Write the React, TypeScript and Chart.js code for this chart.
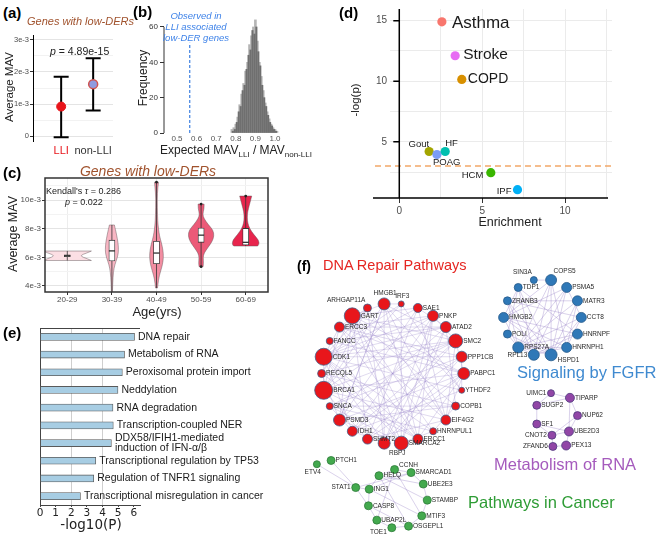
import React, { useEffect, useRef } from 'react';
import { Chart, registerables } from 'chart.js';
Chart.register(...registerables);

const FONT = '"Liberation Sans", Arial, Helvetica, sans-serif';
Chart.defaults.font.family = FONT;

// ================= DATA =================
// (a)
const aGroups = ['LLI', 'non-LLI'];
const aMean = [0.92e-3, 1.62e-3];
const aLow = [-0.04e-3, 0.8e-3];
const aHigh = [1.85e-3, 2.43e-3];
const aYTicks = [0, 0.5e-3, 1e-3, 1.5e-3, 2e-3, 2.5e-3, 3e-3];
const aYLabels = ['0', '', '1e-3', '', '2e-3', '', '3e-3'];

// (b)
const bCentersLight = [0.78, 0.79, 0.8, 0.81, 0.82, 0.83, 0.84, 0.85, 0.86, 0.87, 0.88, 0.89, 0.9, 0.91, 0.92, 0.93, 0.94, 0.95, 0.96, 0.97, 0.98, 0.99, 1.0, 1.01];
const bCountsLight = [2, 3, 5, 9, 16, 22, 28, 35, 40, 50, 55, 60, 64, 52, 40, 32, 24, 17, 12, 8, 5, 3, 2, 1];
const bCentersDark = [0.785, 0.795, 0.805, 0.815, 0.825, 0.835, 0.845, 0.855, 0.865, 0.875, 0.885, 0.895, 0.905, 0.915, 0.925, 0.935, 0.945, 0.955, 0.965, 0.975, 0.985, 0.995, 1.005];
const bCountsDark = [1, 2, 6, 12, 15, 24, 27, 36, 44, 47, 58, 56, 60, 46, 38, 27, 20, 15, 10, 6, 4, 2, 1];
const bXTicks = [0.5, 0.6, 0.7, 0.8, 0.9, 1.0];
const bYTicks = [0, 20, 40, 60];
const bObserved = 0.565;

// (c)
const cGroups = ['20-29', '30-39', '40-49', '50-59', '60-69'];
const cMedian = [6.11e-3, 6.45e-3, 6.3e-3, 7.55e-3, 7.05e-3];
const cQ1 = [6.05e-3, 5.75e-3, 5.55e-3, 7.05e-3, 6.86e-3];
const cQ3 = [6.17e-3, 7.2e-3, 7.12e-3, 8.05e-3, 8.02e-3];
const cMin = [5.78e-3, 3.5e-3, 3.86e-3, 5.35e-3, 6.79e-3];
const cMax = [6.44e-3, 8.26e-3, 11.25e-3, 9.72e-3, 10.28e-3];
const cOutliers = [[], [], [11.25e-3], [9.72e-3, 5.35e-3], [10.28e-3]];
// violin density profiles (levels in 1e-3 units, relative half-width as share of a category)
const cViolinLevels = [
  [5.78, 5.9, 6.11, 6.32, 6.44],
  [3.5, 4.2, 5.0, 5.5, 5.9, 6.3, 6.8, 7.3, 7.8, 8.1, 8.26],
  [3.86, 4.5, 5.0, 5.5, 6.0, 6.5, 7.0, 7.5, 8.0, 8.5, 9.5, 10.5, 11.25],
  [5.35, 5.6, 6.0, 6.3, 6.7, 7.1, 7.5, 7.9, 8.3, 8.7, 9.0, 9.4, 9.72],
  [6.79, 6.9, 7.2, 7.6, 8.0, 8.4, 8.8, 9.2, 9.6, 10.0, 10.28],
];
const cViolinWidths = [
  [0.54, 0.45, 0.27, 0.45, 0.54],
  [0.011, 0.018, 0.034, 0.067, 0.112, 0.146, 0.146, 0.123, 0.09, 0.067, 0.056],
  [0.022, 0.045, 0.09, 0.135, 0.157, 0.146, 0.112, 0.067, 0.045, 0.027, 0.018, 0.018, 0.045],
  [0.045, 0.056, 0.045, 0.067, 0.157, 0.247, 0.291, 0.269, 0.157, 0.067, 0.034, 0.067, 0.067],
  [0.269, 0.303, 0.291, 0.179, 0.09, 0.045, 0.034, 0.045, 0.078, 0.112, 0.135],
];
const cYTicks = [4e-3, 5e-3, 6e-3, 7e-3, 8e-3, 9e-3, 10e-3, 11e-3];
const cYLabels = ['4e-3', '', '6e-3', '', '8e-3', '', '10e-3', ''];

// (d)
const dDiseases = ['Asthma', 'Stroke', 'COPD', 'Gout', 'POAG', 'HF', 'HCM', 'IPF'];
const dEnrich = [2.57, 3.37, 3.77, 1.8, 2.27, 2.77, 5.52, 7.13];
const dLogP = [14.9, 12.1, 10.15, 4.2, 3.95, 4.2, 2.45, 1.05];
const dThreshold = 3.0;
const dXTicks = [0, 2.5, 5, 7.5, 10, 12.5];
const dXLabels = ['0', '', '5', '', '10', ''];
const dYTicks = [2.5, 5, 7.5, 10, 12.5, 15];
const dYLabels = ['', '5', '', '10', '', '15'];

// (e)
const ePathways: any[] = [
  'DNA repair',
  'Metabolism of RNA',
  'Peroxisomal protein import',
  'Neddylation',
  'RNA degradation',
  'Transcription-coupled NER',
  ['DDX58/IFIH1-mediated', 'induction of IFN-\u03b1/\u03b2'],
  'Transcriptional regulation by TP53',
  'Regulation of TNFR1 signaling',
  'Transcriptional misregulation in cancer',
];
const eLogP = [6.05, 5.41, 5.27, 4.99, 4.67, 4.69, 4.57, 3.57, 3.44, 2.59];
const eXTicks = [0, 1, 2, 3, 4, 5, 6];

// (f) networks
const redNodes = ['IRF3', 'SAE1', 'PNKP', 'ATAD2', 'SMC2', 'PPP1CB', 'PABPC1', 'YTHDF2', 'COPB1', 'EIF4G2', 'HNRNPUL1', 'ERCC1', 'SMARCA2', 'RBPJ', 'SHMT2', 'IDH1', 'PSMD3', 'SNCA', 'BRCA1', 'RECQL5', 'CDK1', 'FANCC', 'ERCC3', 'GART', 'ARHGAP11A', 'HMGB1'];
const redDegree = [8, 14, 18, 18, 24, 18, 20, 8, 12, 16, 10, 16, 24, 20, 16, 16, 20, 10, 32, 12, 30, 10, 16, 28, 12, 20];
const redEdges = '0-12 0-18 0-20 1-16 1-20 1-23 2-18 2-13 2-11 3-20 3-16 3-22 3-12 4-18 4-20 4-23 4-14 4-9 5-17 5-20 5-15 6-18 6-22 6-23 6-13 6-9 7-20 7-25 8-16 8-23 8-19 9-18 9-22 9-25 10-20 10-23 11-18 11-22 11-20 11-25 12-20 12-23 12-16 12-2 13-20 13-25 13-3 14-23 14-1 14-6 15-20 15-2 15-4 16-23 16-6 16-25 17-4 17-8 18-22 18-14 18-24 19-4 19-11 20-24 20-2 21-6 21-12 22-2 22-5 23-19 23-11 24-9 24-13 25-16 25-4 25-18 1-3 2-4 4-6 5-7 8-10 10-12 13-15 15-17 18-20 20-22 22-24 23-25 0-25 16-19 6-11 9-14 3-8 1-9 12-17 19-24 5-13 10-17 21-3 7-15 0-7';
const blueNodes = ['SIN3A', 'COPS5', 'PSMA5', 'MATR3', 'CCT8', 'HNRNPF', 'HNRNPH1', 'HSPD1', 'RPL13', 'RPS27A', 'POLI', 'HMGB2', 'ZRANB3', 'TDP1'];
const blueDegree = [10, 18, 16, 16, 16, 16, 16, 20, 18, 18, 12, 16, 12, 12];
const blueEdges = '0-1 1-7 1-8 1-9 1-6 1-11 2-7 2-9 2-8 2-11 3-9 3-7 3-6 4-9 4-7 4-12 5-9 5-8 5-11 6-9 6-8 7-9 7-11 7-12 8-9 8-13 9-11 9-12 9-10 10-7 11-13 11-6 12-3 13-7 13-5 2-4 4-6 10-13 12-8';
const purpleNodes = ['UIMC1', 'TIPARP', 'SUGP2', 'NUP62', 'SF1', 'UBE2D3', 'CNOT2', 'PEX13', 'ZFAND6'];
const purpleDegree = [10, 14, 12, 12, 12, 14, 12, 14, 12];
const purpleLayoutX = [265, 285, 250, 293, 250, 284, 266, 281, 267];
const purpleLayoutY = [148, 153, 161, 172, 181, 189, 193, 204, 205];
const purpleEdges = ['UIMC1-TIPARP', 'UIMC1-SUGP2', 'TIPARP-SUGP2', 'TIPARP-NUP62', 'SUGP2-SF1', 'SF1-CNOT2', 'SF1-UBE2D3', 'NUP62-CNOT2', 'NUP62-UBE2D3', 'CNOT2-ZFAND6', 'CNOT2-UBE2D3', 'UBE2D3-PEX13', 'ZFAND6-PEX13', 'TIPARP-UBE2D3'];
const greenRing = ['CCNH', 'SMARCAD1', 'UBE2E3', 'STAMBP', 'MTIF3', 'OSGEPL1', 'TOE1', 'UBAP2L', 'CASP8', 'ING1', 'HELQ'];
const greenExtra = ['STAT1', 'ETV4', 'PTCH1'];
const greenExtraX = [59, 18, 33];
const greenExtraY = [249, 224, 220];
const greenDegree = [12, 12, 12, 12, 12, 12, 12, 12, 12, 12, 12, 12, 10, 12];
const greenEdges = ['ETV4-STAT1', 'PTCH1-STAT1', 'STAT1-CASP8', 'STAT1-SMARCAD1', 'STAT1-ING1', 'CCNH-HELQ', 'CCNH-SMARCAD1', 'CCNH-UBAP2L', 'HELQ-ING1', 'HELQ-STAMBP', 'HELQ-UBE2E3', 'ING1-CASP8', 'ING1-MTIF3', 'CASP8-UBAP2L', 'CASP8-OSGEPL1', 'UBAP2L-TOE1', 'TOE1-OSGEPL1', 'OSGEPL1-MTIF3', 'MTIF3-STAMBP', 'STAMBP-UBE2E3', 'UBE2E3-SMARCAD1', 'SMARCAD1-ING1', 'CCNH-MTIF3', 'HELQ-OSGEPL1'];

// ================= STYLE / LAYOUT =================
const aPointFill = ['#e8141a', '#8f9be0'];
const aPointEdge = ['#e8141a', '#d0524f'];
const cColors = ['#fcdfe4', '#f8b6c3', '#f28da1', '#ec5a78', '#e8254d'];
const dColors = ['#F8766D', '#E76BF3', '#D89000', '#A3A500', '#7B9CF5', '#00BFAF', '#39B600', '#00B0F6'];
const dLabelStyle = [
  { dx: 10, dy: 1, size: 17, align: 'left' },
  { dx: 8, dy: -1, size: 15.5, align: 'left' },
  { dx: 6, dy: 0, size: 14, align: 'left' },
  { dx: 0, dy: -7, size: 9.5, align: 'right' },
  { dx: -4, dy: 8, size: 9.5, align: 'left' },
  { dx: 0, dy: -8, size: 9.5, align: 'left' },
  { dx: -7.5, dy: 2.5, size: 9.5, align: 'right' },
  { dx: -6, dy: 2, size: 9.5, align: 'right' },
];
const labelPos: Record<string, string> = {
  ARHGAP11A: 'tl', HMGB1: 't', IRF3: 't', RBPJ: 'br',
  SIN3A: 'tl', COPS5: 'tr', RPL13: 'l', HSPD1: 'rb',
  UIMC1: 'l', CNOT2: 'l', ZFAND6: 'l',
  ETV4: 'bl', STAT1: 'l', CCNH: 'rt', TOE1: 'lb',
};
const nodeRadius = (deg: number) => 1 + deg * 0.25;

function circleLayout(n: number, cx: number, cy: number, r: number, startDeg: number) {
  const out: { x: number; y: number }[] = [];
  for (let i = 0; i < n; i++) {
    const a = ((startDeg + (i * 360) / n) * Math.PI) / 180;
    out.push({ x: cx + r * Math.sin(a), y: cy - r * Math.cos(a) });
  }
  return out;
}

const fixW = (w: number) => (s: any) => { s.width = w; };
const fixH = (h: number) => (s: any) => { s.height = h; };
const base = (pad: any) => ({
  responsive: false,
  animation: false,
  layout: { padding: pad },
  plugins: { legend: { display: false }, tooltip: { enabled: false }, title: { display: false } },
});

// ================= (a) =================
function configA() {
  const errPlugin = {
    id: 'errA',
    beforeDatasetsDraw(chart: any) {
      const { ctx, scales } = chart;
      ctx.save();
      ctx.strokeStyle = '#000';
      ctx.lineWidth = 2;
      aGroups.forEach((_, i) => {
        const px = scales.x.getPixelForValue(i + 1);
        const p1 = scales.y.getPixelForValue(aLow[i]);
        const p2 = scales.y.getPixelForValue(aHigh[i]);
        ctx.beginPath();
        ctx.moveTo(px, p1); ctx.lineTo(px, p2);
        ctx.moveTo(px - 7.5, p1); ctx.lineTo(px + 7.5, p1);
        ctx.moveTo(px - 7.5, p2); ctx.lineTo(px + 7.5, p2);
        ctx.stroke();
      });
      ctx.restore();
    },
  };
  return {
    type: 'scatter',
    data: {
      datasets: [{
        data: aMean.map((m, i) => ({ x: i + 1, y: m })),
        pointRadius: 4.5,
        pointBackgroundColor: aPointFill,
        pointBorderColor: aPointEdge,
        pointBorderWidth: [1, 1.5],
      }],
    },
    options: {
      ...base({ top: 7, right: 12, left: 0, bottom: 0 }),
      scales: {
        x: {
          type: 'linear', min: 0.12, max: 2.62,
          afterBuildTicks: (s: any) => { s.ticks = aGroups.map((_, i) => ({ value: i + 1 })); },
          afterFit: fixH(21),
          grid: { display: false, drawTicks: false },
          border: { display: false },
          ticks: {
            autoSkip: false, maxRotation: 0, padding: 3,
            callback: (v: any) => aGroups[Math.round(v) - 1],
            color: (c: any) => (c.index === 0 ? '#e8141a' : '#333'),
            font: { size: 11 },
          },
        },
        y: {
          type: 'linear', min: -0.156e-3, max: 3.156e-3,
          afterBuildTicks: (s: any) => { s.ticks = aYTicks.map((v) => ({ value: v })); },
          afterFit: fixW(33),
          grid: {
            color: (c: any) => (aYLabels[c.index] ? '#e4e4e4' : '#f2f2f2'),
            tickColor: (c: any) => (aYLabels[c.index] ? '#333' : 'rgba(0,0,0,0)'),
            tickLength: 3,
          },
          border: { display: true, color: '#000', width: 1 },
          ticks: { autoSkip: false, padding: 1, callback: (_v: any, i: number) => aYLabels[i], color: '#4d4d4d', font: { size: 7.5 } },
        },
      },
    },
    plugins: [errPlugin],
  };
}

// ================= (b) =================
function configB() {
  const plug = {
    id: 'bAxis',
    afterDatasetsDraw(chart: any) {
      const { ctx, scales, chartArea } = chart;
      ctx.save();
      ctx.strokeStyle = '#333';
      ctx.lineWidth = 1;
      ctx.beginPath();
      ctx.moveTo(chartArea.left, scales.y.getPixelForValue(bYTicks[0]));
      ctx.lineTo(chartArea.left, scales.y.getPixelForValue(bYTicks[bYTicks.length - 1]));
      ctx.stroke();
      const px = scales.x.getPixelForValue(bObserved);
      ctx.strokeStyle = '#3d7fe0';
      ctx.lineWidth = 1.2;
      ctx.setLineDash([3, 2]);
      ctx.beginPath();
      ctx.moveTo(px, scales.y.getPixelForValue(0));
      ctx.lineTo(px, scales.y.getPixelForValue(51));
      ctx.stroke();
      ctx.restore();
    },
  };
  return {
    type: 'bar',
    data: {
      datasets: [
        { data: bCentersLight.map((c, i) => ({ x: c, y: bCountsLight[i] })), backgroundColor: '#b5b5b5', barThickness: 2, grouped: false, order: 2 },
        { data: bCentersDark.map((c, i) => ({ x: c, y: bCountsDark[i] })), backgroundColor: '#6f6f6f', barThickness: 1.4, grouped: false, order: 1 },
      ],
    },
    options: {
      ...base({ top: 11, right: 10, left: 0, bottom: 0 }),
      scales: {
        x: {
          type: 'linear', min: 0.4337, max: 1.051, offset: false,
          afterBuildTicks: (s: any) => { s.ticks = bXTicks.map((v) => ({ value: v })); },
          afterFit: fixH(12),
          grid: { display: false, drawTicks: false },
          border: { display: false },
          ticks: { autoSkip: false, maxRotation: 0, padding: 1, callback: (v: any) => Number(v).toFixed(1), color: '#555', font: { size: 8 } },
        },
        y: {
          type: 'linear', min: 0, max: 66.2,
          afterBuildTicks: (s: any) => { s.ticks = bYTicks.map((v) => ({ value: v })); },
          afterFit: fixW(34),
          grid: { drawOnChartArea: false, drawTicks: true, tickLength: 4, color: '#333' },
          border: { display: false },
          ticks: { autoSkip: false, padding: 2, color: '#333', font: { size: 8 } },
        },
      },
    },
    plugins: [plug],
  };
}

// ================= (c) =================
function smoothTo(ctx: any, pts: number[][], move: boolean) {
  if (move) ctx.moveTo(pts[0][0], pts[0][1]); else ctx.lineTo(pts[0][0], pts[0][1]);
  for (let i = 1; i < pts.length - 1; i++) {
    const mx = (pts[i][0] + pts[i + 1][0]) / 2;
    const my = (pts[i][1] + pts[i + 1][1]) / 2;
    ctx.quadraticCurveTo(pts[i][0], pts[i][1], mx, my);
  }
  ctx.lineTo(pts[pts.length - 1][0], pts[pts.length - 1][1]);
}

function configC() {
  const plug = {
    id: 'violins',
    beforeDatasetsDraw(chart: any) {
      const { ctx, chartArea, scales } = chart;
      const { x, y } = scales;
      const catW = x.getPixelForValue(1) - x.getPixelForValue(0);
      ctx.save();
      ctx.beginPath();
      ctx.rect(chartArea.left, chartArea.top, chartArea.width, chartArea.height);
      ctx.clip();
      cGroups.forEach((_, i) => {
        const cx = x.getPixelForValue(i);
        const lv = cViolinLevels[i];
        const wd = cViolinWidths[i];
        const right = lv.map((v, k) => [cx + wd[k] * catW, y.getPixelForValue(v * 1e-3)]);
        const left = lv.map((v, k) => [cx - wd[k] * catW, y.getPixelForValue(v * 1e-3)]).reverse();
        ctx.beginPath();
        smoothTo(ctx, right, true);
        smoothTo(ctx, left, false);
        ctx.closePath();
        ctx.fillStyle = cColors[i];
        ctx.fill();
        ctx.strokeStyle = 'rgba(95,80,85,0.75)';
        ctx.lineWidth = 0.6;
        ctx.stroke();
        ctx.strokeStyle = '#333';
        ctx.lineWidth = 0.8;
        ctx.beginPath();
        ctx.moveTo(cx, y.getPixelForValue(cMin[i]));
        ctx.lineTo(cx, y.getPixelForValue(cMax[i]));
        ctx.stroke();
      });
      ctx.restore();
    },
    afterDatasetsDraw(chart: any) {
      const { ctx, scales } = chart;
      const { x, y } = scales;
      ctx.save();
      cGroups.forEach((_, i) => {
        const cx = x.getPixelForValue(i);
        const py = y.getPixelForValue(cMedian[i]);
        ctx.strokeStyle = '#222';
        ctx.lineWidth = 1.2;
        ctx.beginPath();
        ctx.moveTo(cx - 3, py); ctx.lineTo(cx + 3, py);
        ctx.stroke();
        ctx.fillStyle = '#222';
        cOutliers[i].forEach((o: number) => {
          ctx.beginPath();
          ctx.arc(cx, y.getPixelForValue(o), 1.4, 0, Math.PI * 2);
          ctx.fill();
        });
      });
      ctx.restore();
    },
    afterDraw(chart: any) {
      const { ctx, chartArea } = chart;
      ctx.save();
      ctx.strokeStyle = '#333';
      ctx.lineWidth = 1.5;
      ctx.strokeRect(chartArea.left, chartArea.top, chartArea.width, chartArea.height);
      ctx.restore();
    },
  };
  return {
    type: 'bar',
    data: {
      labels: cGroups,
      datasets: [{
        data: cQ1.map((q, i) => [q, cQ3[i]]),
        backgroundColor: '#ffffff',
        borderColor: '#333',
        borderWidth: 0.8,
        borderSkipped: false,
        barThickness: 6,
      }],
    },
    options: {
      ...base({ top: 6, right: 7, left: 0, bottom: 0 }),
      scales: {
        x: {
          type: 'category', offset: true,
          afterFit: fixH(30),
          grid: { offset: false, color: '#ededed', tickColor: '#333', tickLength: 3 },
          border: { display: false },
          ticks: { autoSkip: false, maxRotation: 0, padding: 0, color: '#4d4d4d', font: { size: 8 } },
        },
        y: {
          type: 'linear', min: 3.58e-3, max: 11.54e-3,
          afterBuildTicks: (s: any) => { s.ticks = cYTicks.map((v) => ({ value: v })); },
          afterFit: fixW(45),
          grid: {
            color: (c: any) => (cYLabels[c.index] ? '#e4e4e4' : '#f3f3f3'),
            tickColor: (c: any) => (cYLabels[c.index] ? '#333' : 'rgba(0,0,0,0)'),
            tickLength: 3,
          },
          border: { display: false },
          ticks: { autoSkip: false, padding: 1, callback: (_v: any, i: number) => cYLabels[i], color: '#4d4d4d', font: { size: 8 } },
        },
      },
    },
    plugins: [plug],
  };
}

// ================= (d) =================
function configD() {
  const plug = {
    id: 'dDeco',
    beforeDatasetsDraw(chart: any) {
      const { ctx, chartArea, scales } = chart;
      const { x, y } = scales;
      ctx.save();
      ctx.strokeStyle = '#f2a868';
      ctx.lineWidth = 1.5;
      ctx.setLineDash([6, 4]);
      ctx.beginPath();
      const ty = y.getPixelForValue(dThreshold);
      ctx.moveTo(chartArea.left - 15, ty);
      ctx.lineTo(chartArea.right, ty);
      ctx.stroke();
      ctx.setLineDash([]);
      const x0 = x.getPixelForValue(0);
      ctx.strokeStyle = '#000';
      ctx.lineWidth = 1.5;
      ctx.beginPath();
      ctx.moveTo(x0, chartArea.top);
      ctx.lineTo(x0, chartArea.bottom);
      dYTicks.forEach((v, i) => {
        if (!dYLabels[i]) return;
        const py = y.getPixelForValue(v);
        ctx.moveTo(x0 - 6, py);
        ctx.lineTo(x0, py);
      });
      ctx.stroke();
      ctx.beginPath();
      ctx.moveTo(chartArea.left - 17, chartArea.bottom);
      ctx.lineTo(chartArea.right - 4, chartArea.bottom);
      ctx.stroke();
      ctx.restore();
    },
    afterDatasetsDraw(chart: any) {
      const { ctx } = chart;
      const meta = chart.getDatasetMeta(0);
      ctx.save();
      ctx.fillStyle = '#1a1a1a';
      ctx.textBaseline = 'middle';
      meta.data.forEach((el: any, i: number) => {
        const st = dLabelStyle[i];
        ctx.font = `${st.size}px ${FONT}`;
        ctx.textAlign = st.align;
        ctx.fillText(dDiseases[i], el.x + st.dx, el.y + st.dy);
      });
      ctx.restore();
    },
  };
  return {
    type: 'scatter',
    data: {
      datasets: [{
        data: dEnrich.map((e, i) => ({ x: e, y: dLogP[i] })),
        pointRadius: 4.6,
        pointBackgroundColor: dColors,
        pointBorderColor: dColors,
        pointBorderWidth: 0,
      }],
    },
    options: {
      ...base({ top: 3, right: 54, left: 0, bottom: 0 }),
      scales: {
        x: {
          type: 'linear', min: -0.56, max: 12.83,
          afterBuildTicks: (s: any) => { s.ticks = dXTicks.map((v) => ({ value: v })); },
          afterFit: fixH(34),
          grid: {
            color: '#ebebeb',
            tickColor: (c: any) => (dXLabels[c.index] ? '#333' : 'rgba(0,0,0,0)'),
            tickLength: 5,
          },
          border: { display: false },
          ticks: { autoSkip: false, maxRotation: 0, padding: 2, callback: (_v: any, i: number) => dXLabels[i], color: '#4d4d4d', font: { size: 10 } },
        },
        y: {
          type: 'linear', min: 0.36, max: 15.96,
          afterBuildTicks: (s: any) => { s.ticks = dYTicks.map((v) => ({ value: v })); },
          afterFit: fixW(50),
          grid: { color: '#ebebeb', drawTicks: false },
          border: { display: false },
          ticks: { autoSkip: false, padding: 3, callback: (_v: any, i: number) => dYLabels[i], color: '#4d4d4d', font: { size: 10 } },
        },
      },
    },
    plugins: [plug],
  };
}

// ================= (e) =================
function configE() {
  const plug = {
    id: 'eLabels',
    afterDatasetsDraw(chart: any) {
      const { ctx, chartArea } = chart;
      const meta = chart.getDatasetMeta(0);
      ctx.save();
      ctx.strokeStyle = '#444';
      ctx.lineWidth = 1;
      ctx.beginPath();
      ctx.moveTo(chartArea.left, chartArea.top + 0.5);
      ctx.lineTo(chartArea.right, chartArea.top + 0.5);
      ctx.stroke();
      ctx.fillStyle = '#1a1a1a';
      ctx.font = `10.5px ${FONT}`;
      ctx.textAlign = 'left';
      ctx.textBaseline = 'middle';
      meta.data.forEach((el: any, i: number) => {
        const lab = ePathways[i];
        if (Array.isArray(lab)) {
          lab.forEach((ln: string, k: number) => ctx.fillText(ln, el.x + 3.5, el.y + (k - (lab.length - 1) / 2) * 10.5));
        } else {
          ctx.fillText(lab, el.x + 3.5, el.y);
        }
      });
      ctx.restore();
    },
  };
  return {
    type: 'bar',
    data: {
      labels: ePathways,
      datasets: [{
        data: eLogP,
        backgroundColor: '#a7cde3',
        borderColor: '#5a5a5a',
        borderWidth: 0.8,
        borderSkipped: false,
        barThickness: 7,
      }],
    },
    options: {
      ...base({ top: 8, right: 150, left: 0, bottom: 0 }),
      indexAxis: 'y',
      scales: {
        x: {
          type: 'linear', min: 0, max: 6.4,
          afterBuildTicks: (s: any) => { s.ticks = eXTicks.map((v) => ({ value: v })); },
          afterFit: fixH(41),
          grid: {
            color: (c: any) => (c.tick && (c.tick.value === 2 || c.tick.value === 4) ? '#cfcfcf' : 'rgba(0,0,0,0)'),
            tickColor: '#444',
            tickLength: 2,
          },
          border: { display: true, color: '#444', width: 1 },
          ticks: { autoSkip: false, maxRotation: 0, padding: 0, color: '#222', font: { size: 10.5, family: '"DejaVu Sans", sans-serif' } },
        },
        y: {
          type: 'category', offset: true,
          afterFit: fixW(40),
          grid: { display: false, drawTicks: false },
          border: { display: true, color: '#444', width: 1 },
          ticks: { display: false },
        },
      },
    },
    plugins: [plug],
  };
}

// ================= (f) =================
function buildNetworks() {
  const red = circleLayout(redNodes.length, 98, 127, 75, 6.9).map((p, i) => ({ ...p, name: redNodes[i], r: nodeRadius(redDegree[i]) }));
  const blue = circleLayout(blueNodes.length, 256, 67, 41, -12.86).map((p, i) => ({ ...p, name: blueNodes[i], r: nodeRadius(blueDegree[i]) }));
  const purple = purpleNodes.map((n, i) => ({ x: purpleLayoutX[i], y: purpleLayoutY[i], name: n, r: nodeRadius(purpleDegree[i]) }));
  const ring = circleLayout(greenRing.length, 103, 261, 31.5, -5.5);
  const greenNames = [...greenRing, ...greenExtra];
  const green = greenNames.map((n, i) => {
    const p = i < greenRing.length ? ring[i] : { x: greenExtraX[i - greenRing.length], y: greenExtraY[i - greenRing.length] };
    return { x: p.x, y: p.y, name: n, r: nodeRadius(greenDegree[i]) };
  });
  const idxPairs = (s: string) => s.split(' ').map((p) => p.split('-').map(Number));
  const namePairs = (list: string[], nodes: any[]) =>
    list.map((e) => e.split('-').map((nm) => nodes.findIndex((n: any) => n.name === nm)));
  return [
    { nodes: red, edges: idxPairs(redEdges), fill: '#e8161b', edge: '#3f5f8c' },
    { nodes: blue, edges: idxPairs(blueEdges), fill: '#2f78b7', edge: '#25598a' },
    { nodes: purple, edges: namePairs(purpleEdges, purple), fill: '#9146a6', edge: '#4c3a7c' },
    { nodes: green, edges: namePairs(greenEdges, green), fill: '#43a94e', edge: '#2e7b3a' },
  ];
}

function configF() {
  const nets = buildNetworks();
  const plug = {
    id: 'net',
    beforeDatasetsDraw(chart: any) {
      const { ctx, scales } = chart;
      const { x, y } = scales;
      ctx.save();
      ctx.lineWidth = 0.6;
      nets.forEach((net, k) => {
        ctx.strokeStyle = k === 0 ? 'rgba(150,130,200,0.5)' : 'rgba(150,130,200,0.6)';
        ctx.beginPath();
        net.edges.forEach(([a, b]: number[]) => {
          const na = net.nodes[a];
          const nb = net.nodes[b];
          ctx.moveTo(x.getPixelForValue(na.x), y.getPixelForValue(na.y));
          ctx.lineTo(x.getPixelForValue(nb.x), y.getPixelForValue(nb.y));
        });
        ctx.stroke();
      });
      ctx.restore();
    },
    afterDatasetsDraw(chart: any) {
      const { ctx } = chart;
      ctx.save();
      ctx.fillStyle = '#2a2a2a';
      ctx.font = `6.5px ${FONT}`;
      nets.forEach((net, k) => {
        const meta = chart.getDatasetMeta(k);
        meta.data.forEach((el: any, i: number) => {
          const nd = net.nodes[i];
          const pos = labelPos[nd.name] || 'r';
          let tx = el.x + nd.r + 0.5;
          let ty = el.y;
          let al = 'left';
          if (pos === 'l') { tx = el.x - nd.r - 1; al = 'right'; }
          else if (pos === 't') { tx = el.x + 1; ty = el.y - nd.r - 4.5; al = 'center'; }
          else if (pos === 'tl') { tx = el.x - 2; ty = el.y - nd.r - 4; al = 'right'; }
          else if (pos === 'tr') { tx = el.x + 2.5; ty = el.y - nd.r - 3.5; al = 'left'; }
          else if (pos === 'br') { tx = el.x + nd.r * 0.8; ty = el.y + nd.r + 4; al = 'left'; }
          else if (pos === 'bl') { tx = el.x + 4; ty = el.y + nd.r + 4; al = 'right'; }
          else if (pos === 'rb') { ty = el.y + 5; }
          else if (pos === 'rt') { ty = el.y - 4; }
          else if (pos === 'lb') { tx = el.x - nd.r - 1; ty = el.y + 4; al = 'right'; }
          ctx.textAlign = al;
          ctx.textBaseline = 'middle';
          ctx.fillText(nd.name, tx, ty);
        });
      });
      ctx.restore();
    },
  };
  return {
    type: 'scatter',
    data: {
      datasets: nets.map((net) => ({
        data: net.nodes.map((n: any) => ({ x: n.x, y: n.y })),
        pointRadius: net.nodes.map((n: any) => n.r),
        pointBackgroundColor: net.fill,
        pointBorderColor: net.edge,
        pointBorderWidth: 0.8,
      })),
    },
    options: {
      ...base({ top: 0, right: 0, left: 0, bottom: 0 }),
      scales: {
        x: { type: 'linear', min: 0, max: 376, display: false },
        y: { type: 'linear', min: 0, max: 301, reverse: true, display: false },
      },
    },
    plugins: [plug],
  };
}

// ================= COMPONENTS =================
function ChartCanvas({ x, y, w, h, config }: any) {
  const ref = useRef<HTMLCanvasElement | null>(null);
  useEffect(() => {
    const chart = new Chart(ref.current as HTMLCanvasElement, config());
    return () => chart.destroy();
  }, []);
  return (
    <canvas ref={ref} width={w} height={h} style={{ position: 'absolute', left: x, top: y, width: w, height: h }} />
  );
}

function T({ x, y, s, c = '#111', b = false, i = false, a = 'l', rot = false, ff = FONT, children }: any) {
  let tr = a === 'c' ? 'translate(-50%,-50%)' : a === 'r' ? 'translate(-100%,-50%)' : 'translate(0,-50%)';
  if (rot) tr = 'translate(-50%,-50%) rotate(-90deg)';
  return (
    <div
      style={{
        position: 'absolute', left: x, top: y, transform: tr, fontSize: s, color: c,
        fontWeight: b ? 'bold' : 'normal', fontStyle: i ? 'italic' : 'normal',
        fontFamily: ff, whiteSpace: 'nowrap', lineHeight: 1,
      }}
    >
      {children}
    </div>
  );
}

const BROWN = '#a0522d';

export default function App() {
  return (
    <div style={{ position: 'absolute', left: 0, top: 0, width: 666, height: 546, background: '#fff', overflow: 'hidden' }}>
      <ChartCanvas x={0} y={28} w={125} h={134} config={configA} />
      <ChartCanvas x={130} y={5} w={165} h={140} config={configB} />
      <ChartCanvas x={0} y={172} w={275} h={150} config={configC} />
      <ChartCanvas x={340} y={0} w={326} h={232} config={configD} />
      <ChartCanvas x={0} y={320} w={290} h={226} config={configE} />
      <ChartCanvas x={290} y={245} w={376} h={301} config={configF} />

      {/* (a) */}
      <T x={3} y={12} s={15} b c="#000">(a)</T>
      <T x={27} y={20.5} s={11} i c={BROWN}>Genes with low-DERs</T>
      <T x={50} y={51} s={10.5} c="#222"><i>p</i> = 4.89e-15</T>
      <T x={9.5} y={87} s={11.5} rot c="#222">Average MAV</T>

      {/* (b) */}
      <T x={133} y={11} s={15} b c="#000">(b)</T>
      <T x={196} y={15.5} s={9.5} i a="c" c="#3f83e8">Observed in</T>
      <T x={196} y={26.5} s={9.5} i a="c" c="#3f83e8">LLI associated</T>
      <T x={196} y={37.5} s={9.5} i a="c" c="#3f83e8">low-DER genes</T>
      <T x={143} y={78} s={12} rot c="#222">Frequency</T>
      <T x={160} y={150} s={12} c="#222">
        Expected MAV<span style={{ fontSize: 8, position: 'relative', top: 3 }}>LLI</span> / MAV<span style={{ fontSize: 8, position: 'relative', top: 3 }}>non-LLI</span>
      </T>

      {/* (c) */}
      <T x={3} y={172} s={15} b c="#000">(c)</T>
      <T x={148} y={171} s={14} i a="c" c={BROWN}>Genes with low-DERs</T>
      <T x={46} y={191} s={9} c="#222">Kendall's <i>&tau;</i> = 0.286</T>
      <T x={65} y={202} s={9} c="#222"><i>p</i> = 0.022</T>
      <T x={13} y={234} s={12.5} rot c="#222">Average MAV</T>
      <T x={157} y={311} s={13} a="c" c="#222">Age(yrs)</T>

      {/* (d) */}
      <T x={339} y={12} s={15} b c="#000">(d)</T>
      <T x={356} y={100} s={11.5} rot c="#222">-log(p)</T>
      <T x={510} y={222} s={12.5} a="c" c="#222">Enrichment</T>

      {/* (e) */}
      <T x={3} y={332} s={15} b c="#000">(e)</T>
      <T x={91} y={525} s={13.5} a="c" c="#222" ff='"DejaVu Sans", sans-serif'>-log10(P)</T>

      {/* (f) */}
      <T x={297} y={266} s={14} b c="#000">(f)</T>
      <T x={323} y={265} s={14.5} c="#e52521">DNA Repair Pathways</T>
      <T x={517} y={372} s={16.5} c="#3f8ad0">Signaling by FGFR</T>
      <T x={494} y={464} s={16.5} c="#a55bbd">Metabolism of RNA</T>
      <T x={468} y={502} s={16.5} c="#2e9c35">Pathways in Cancer</T>
    </div>
  );
}
